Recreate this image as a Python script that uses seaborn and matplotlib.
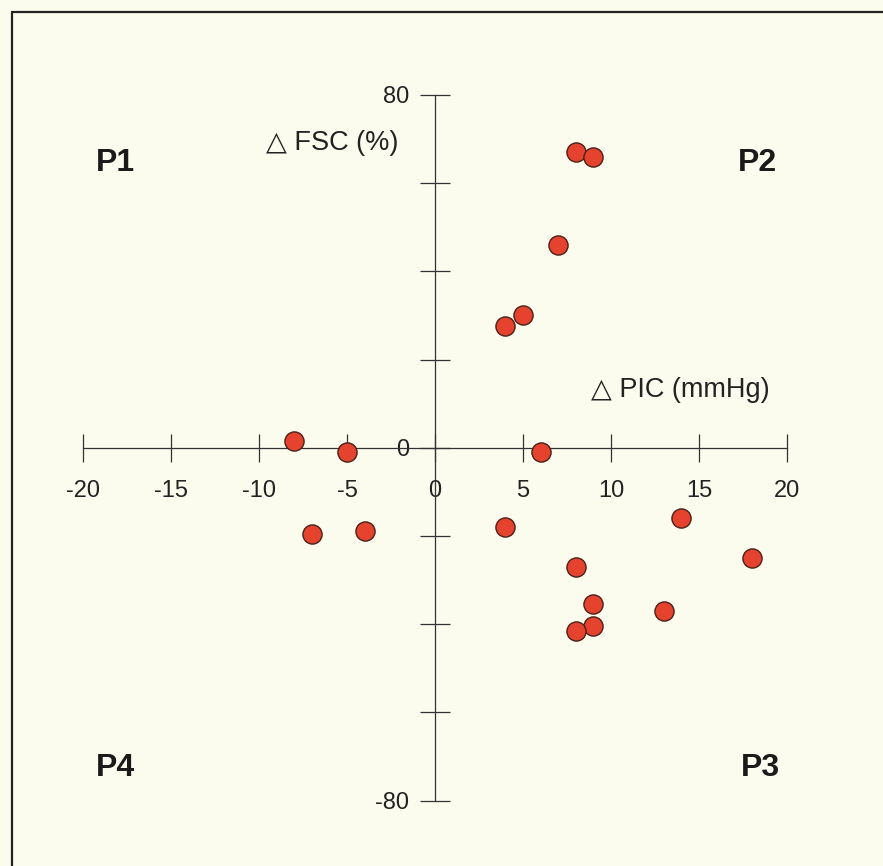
import matplotlib
matplotlib.use("Agg")
import matplotlib.pyplot as plt
import seaborn as sns
import pandas as pd
from matplotlib.lines import Line2D

# ---- data ----
delta_pic = [8, 9, 7, 5, 4, -8, -5, 6, -7, -4, 4, 14, 18, 8, 9, 13, 9, 8]
delta_fsc = [67, 66, 46, 30, 27.5, 1.5, -1, -1, -19.5, -19, -18, -16, -25, -27, -35.5, -37, -40.5, -41.5]
x_ticks = [-20, -15, -10, -5, 0, 5, 10, 15, 20]
x_tick_labels = ["-20", "-15", "-10", "-5", "0", "5", "10", "15", "20"]
y_ticks = [-80, -60, -40, -20, 0, 20, 40, 60, 80]
y_tick_labels = ["-80", "", "", "", "0", "", "", "", "80"]
quadrants = ["P1", "P2", "P3", "P4"]

df = pd.DataFrame({"PIC": delta_pic, "FSC": delta_fsc})

sns.set_style("white")
plt.rcParams["font.family"] = ["Liberation Sans", "DejaVu Sans"]
plt.rcParams["axes.unicode_minus"] = False

W, H = 883, 866
bg = "#FCFCEE"
fig = plt.figure(figsize=(W / 100, H / 100), dpi=100, facecolor=bg)
ax = fig.add_axes([0, 0, 1, 1])
ax.set_facecolor(bg)

# pixel geometry of the reference axes
x0_px, ux = 435.0, 17.6
y0_px, uy = 447.7, 4.41
ax.set_xlim((0 - x0_px) / ux, (W - x0_px) / ux)
ax.set_ylim((y0_px - H) / uy, (y0_px - 0) / uy)

sns.scatterplot(data=df, x="PIC", y="FSC", ax=ax, s=190, color="#E6432F",
                edgecolor="#4a2018", linewidth=1.0, zorder=5, legend=False)

axis_col = "#333333"
for side in ["top", "right"]:
    ax.spines[side].set_visible(False)
ax.spines["left"].set_position(("data", 0))
ax.spines["bottom"].set_position(("data", 0))
ax.spines["left"].set_bounds(-80, 80)
ax.spines["bottom"].set_bounds(-20, 20)
for side in ["left", "bottom"]:
    ax.spines[side].set_color(axis_col)
    ax.spines[side].set_linewidth(0.9)

ax.set_xticks(x_ticks)
ax.set_xticklabels(x_tick_labels)
ax.set_yticks(y_ticks)
ax.set_yticklabels(y_tick_labels)
ax.tick_params(axis="x", bottom=True, direction="inout", length=20, width=0.9,
               color=axis_col, pad=13, labelsize=17, labelcolor="#222222")
ax.tick_params(axis="y", left=True, direction="inout", length=21, width=0.9,
               color=axis_col, pad=8, labelsize=17, labelcolor="#222222")
ax.set_xlabel("")
ax.set_ylabel("")

# axis titles
fig.text(266 / W, 1 - 150 / H, "\u25B3 FSC (%)", fontsize=19.5, color="#222222",
         ha="left", va="baseline")
fig.text(591 / W, 1 - 397 / H, "\u25B3 PIC (mmHg)", fontsize=19.5, color="#222222",
         ha="left", va="baseline")

# quadrant labels
q_pos = {"P1": (115, 163), "P2": (757, 163), "P3": (760, 768), "P4": (115, 768)}
for q in quadrants:
    px, py = q_pos[q]
    fig.text(px / W, 1 - py / H, q, fontsize=23, fontweight="bold", color="#1a1a1a",
             ha="center", va="center")

# frame (top and left edges of the box)
fx, fy = 12 / W, 1 - 12 / H
fig.add_artist(Line2D([fx, fx], [fy, -0.01], transform=fig.transFigure,
                      color="#222222", linewidth=1.6))
fig.add_artist(Line2D([fx, 1.01], [fy, fy], transform=fig.transFigure,
                      color="#222222", linewidth=1.6))

fig.savefig("out.png", dpi=100, facecolor=bg)
